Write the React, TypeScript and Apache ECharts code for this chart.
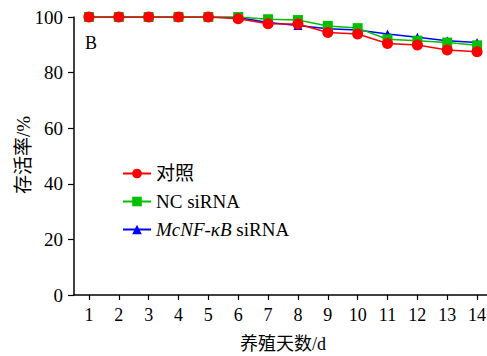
import React, { useEffect, useRef } from "react";
import * as echarts from "echarts";

const days = ["1", "2", "3", "4", "5", "6", "7", "8", "9", "10", "11", "12", "13", "14"];
const controlValues = [100, 100, 100, 100, 100, 99.4, 97.6, 97.5, 94.4, 93.9, 90.5, 89.9, 88.1, 87.5];
const ncValues = [100, 100, 100, 100, 100, 100, 99.2, 98.9, 96.8, 96.0, 92.0, 91.5, 90.8, 89.8];
const nfkbValues = [100, 100, 100, 100, 100, 99.8, 98.0, 96.9, 95.8, 95.3, 93.9, 92.7, 91.5, 90.8];
const seriesNames = ["对照", "NC siRNA", "McNF-κB siRNA"];
const yAxisTitle = "存活率/%";

const FONT = "'Liberation Serif', 'Noto Sans CJK SC', serif";

export default function App() {
  const ref = useRef<HTMLDivElement>(null);
  useEffect(() => {
    if (!ref.current) return;
    const chart = echarts.init(ref.current, undefined, { renderer: "svg" });
    const axisLine = { show: true, lineStyle: { color: "#000", width: 1.5 } };
    chart.setOption({
      animation: false,
      backgroundColor: "#fff",
      textStyle: { fontFamily: FONT },
      grid: { left: 74, right: -5, top: 17, bottom: 61, outerBoundsMode: "none", containLabel: false },
      graphic: [
        { type: "text", left: 85, top: 34, style: { text: "B", font: `18px ${FONT}`, fill: "#000" } },
        {
          type: "text",
          x: 23,
          y: 155,
          rotation: Math.PI / 2,
          style: {
            text: yAxisTitle,
            font: `19px ${FONT}`,
            fill: "#000",
            textAlign: "center",
            textVerticalAlign: "middle",
          },
        },
      ],
      legend: {
        data: seriesNames,
        orient: "vertical",
        left: 117,
        top: 159,
        itemWidth: 28,
        itemHeight: 12,
        itemGap: 9,
        textStyle: {
          fontFamily: FONT,
          fontSize: 19,
          color: "#000",
          rich: { i: { fontStyle: "italic", fontFamily: FONT, fontSize: 19, color: "#000" } },
        },
        formatter: (name: string) => (name === "McNF-κB siRNA" ? "{i|McNF-κB} siRNA" : name),
      },
      xAxis: {
        type: "category",
        data: days,
        boundaryGap: true,
        name: "养殖天数/d",
        nameLocation: "middle",
        nameGap: 40,
        nameTextStyle: { fontFamily: FONT, fontSize: 18, color: "#000" },
        axisLine,
        axisTick: { show: true, alignWithLabel: true, length: 5, lineStyle: { color: "#000", width: 1.2 } },
        axisLabel: { fontFamily: FONT, fontSize: 18, color: "#000", margin: 11, interval: 0 },
        splitLine: { show: false },
      },
      yAxis: {
        type: "value",
        min: 0,
        max: 100,
        interval: 20,
        axisLine,
        axisTick: { show: true, length: 6, lineStyle: { color: "#000", width: 1.2 } },
        axisLabel: { fontFamily: FONT, fontSize: 19, color: "#000", margin: 11 },
        splitLine: { show: false },
      },
      series: [
        {
          name: seriesNames[2],
          type: "line",
          data: nfkbValues,
          symbol: "triangle",
          symbolSize: 9,
          itemStyle: { color: "#0000ff" },
          lineStyle: { color: "#0000ff", width: 1.5 },
          z: 2,
        },
        {
          name: seriesNames[1],
          type: "line",
          data: ncValues,
          symbol: "rect",
          symbolSize: 10,
          itemStyle: { color: "#00c000" },
          lineStyle: { color: "#00c000", width: 1.5 },
          z: 3,
        },
        {
          name: seriesNames[0],
          type: "line",
          data: controlValues,
          symbol: "circle",
          symbolSize: 11,
          itemStyle: { color: "#ff0000" },
          lineStyle: { color: "#ff0000", width: 1.5 },
          z: 4,
        },
      ],
    });
    return () => chart.dispose();
  }, []);
  return <div ref={ref} style={{ width: 487, height: 356, position: "absolute", left: 0, top: 0 }} />;
}
